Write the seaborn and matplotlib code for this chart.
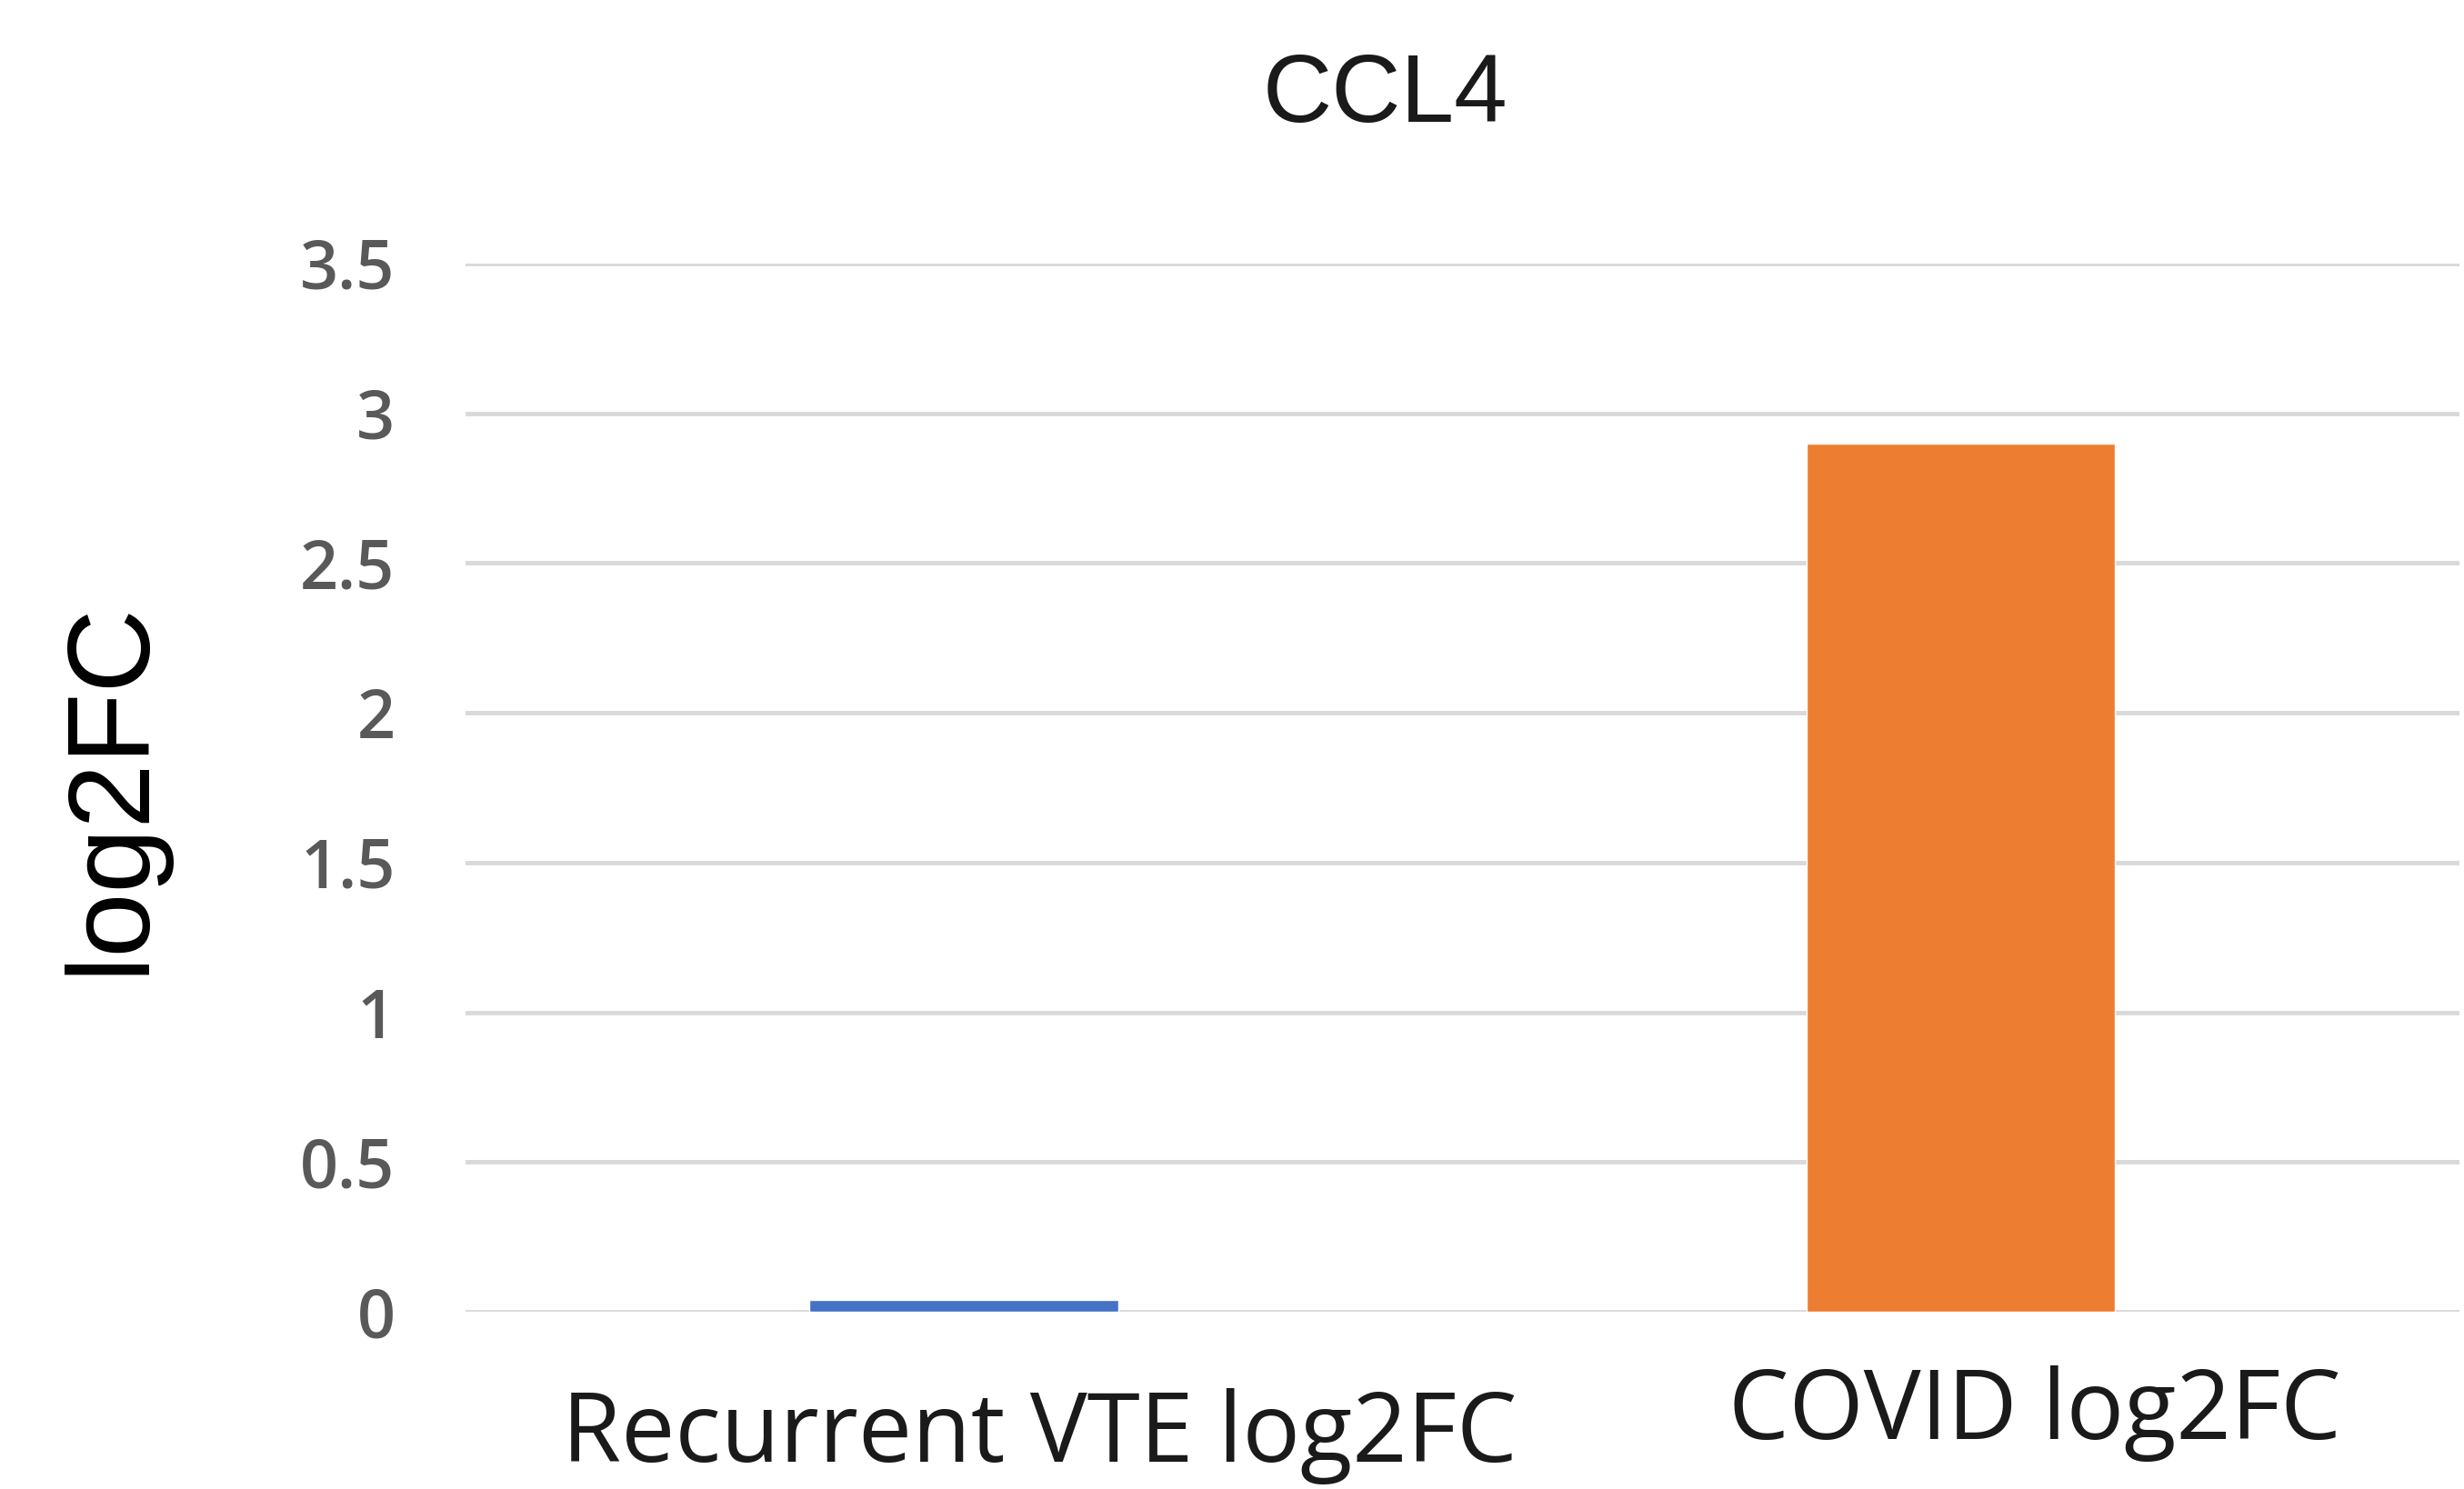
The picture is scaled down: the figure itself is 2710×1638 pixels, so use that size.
import matplotlib
matplotlib.use('Agg')
import matplotlib.pyplot as plt
import matplotlib.transforms as mtransforms
import seaborn as sns

# Values
categories = ['Recurrent VTE log2FC', 'COVID log2FC']
log2fc = [0.04, 2.90]
bar_colors = ['#4472C4', '#ED7D31']
y_ticks = [0, 0.5, 1, 1.5, 2, 2.5, 3, 3.5]

sns.set_style('white')
plt.rcParams['font.family'] = ['Open Sans', 'DejaVu Sans']

fig = plt.figure(figsize=(27.1, 16.38), dpi=100)
ax = fig.add_axes([0.189, 0.119, 0.809, 0.704])

sns.barplot(x=categories, y=log2fc, hue=categories, palette=bar_colors,
            width=0.31, legend=False, saturation=1, ax=ax, zorder=3)

ax.set_xlim(-0.5, 1.5)
ax.set_ylim(0, 3.5)
ax.set_yticks(y_ticks)
ax.set_yticklabels(['0', '0.5', '1', '1.5', '2', '2.5', '3', '3.5'])
ax.grid(axis='y', color='#d9d9d9', linewidth=3.5, zorder=0)
ax.set_axisbelow(True)
for s in ax.spines.values():
    s.set_visible(False)
ax.tick_params(axis='y', length=0, pad=56, labelsize=53, labelcolor='#595959')
for lab in ax.get_yticklabels():
    lab.set_fontweight('semibold')
ax.tick_params(axis='x', length=0, pad=20, labelsize=76, labelcolor='#1a1a1a')

# the x labels sit a little off the bar centres in the original
offsets = [(0.83, -0.56), (0.81, -0.31)]
for lab, (dx, dy) in zip(ax.get_xticklabels(), offsets):
    lab.set_transform(lab.get_transform() +
                      mtransforms.ScaledTranslation(dx, dy, fig.dpi_scale_trans))

ax.set_xlabel('')
ax.set_ylabel('log2FC', fontsize=92, color='black',
              family=['Liberation Sans', 'DejaVu Sans'])
ax.yaxis.set_label_coords(-0.150, 0.5)

fig.text(0.562, 0.935, 'CCL4', ha='center', va='center', fontsize=76,
         color='#1a1a1a', family=['Liberation Sans', 'DejaVu Sans'])

fig.savefig('out.png', dpi=100, facecolor='white')
